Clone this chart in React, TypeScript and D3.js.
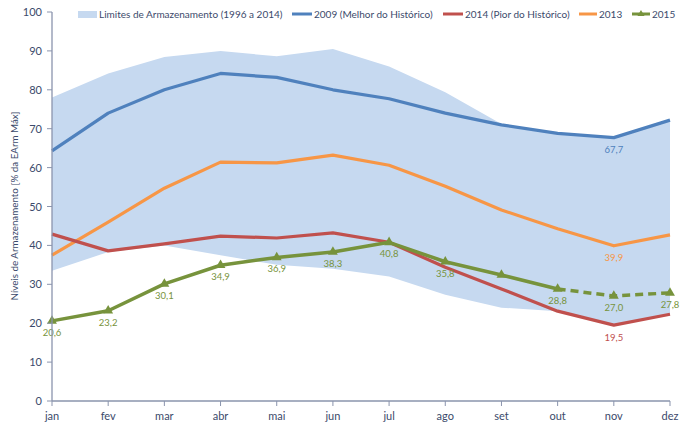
import React from "react";
import * as d3 from "d3";

const months = ["jan", "fev", "mar", "abr", "mai", "jun", "jul", "ago", "set", "out", "nov", "dez"];
const bandUpper = [78, 84.2, 88.4, 90, 88.6, 90.5, 86, 79.4, 71.2, 68.9, 67.7, 72.2];
const bandLower = [33.5, 38.3, 40, 37.5, 35, 34, 32, 27.3, 24, 23.1, 19.5, 22.3];
const s2009 = [64.3, 74, 80, 84.2, 83.2, 80, 77.7, 74, 71, 68.8, 67.7, 72.2];
const s2014 = [42.9, 38.6, 40.4, 42.4, 41.9, 43.2, 40.8, 34.4, 28.8, 23.1, 19.5, 22.3];
const s2013 = [37.5, 46, 54.7, 61.4, 61.2, 63.2, 60.6, 55.2, 49.1, 44.3, 39.9, 42.7];
const s2015 = [20.6, 23.2, 30.1, 34.9, 36.9, 38.3, 40.8, 35.8, 32.4, 28.8, 27.0, 27.8];
const labels2015 = [true, true, true, true, true, true, true, true, false, true, true, true];
const yTicks = [0, 10, 20, 30, 40, 50, 60, 70, 80, 90, 100];

const C_BLUE = "#4f81bd";
const C_RED = "#c0504d";
const C_ORANGE = "#f79646";
const C_GREEN = "#77933c";
const C_BAND = "#c6d9f0";
const C_AXIS = "#8a94ad";
const C_TEXT = "#3b4a6b";
const FONT = "Lato, 'Open Sans', sans-serif";

const fmt = (v: number) => v.toFixed(1).replace(".", ",");

export default function App() {
  const x = d3.scalePoint<string>().domain(months).range([52, 670]);
  const y = d3.scaleLinear().domain([0, 100]).range([401, 12]);
  const px = (i: number) => x(months[i]) as number;

  const area = d3
    .area<number>()
    .x((_, i) => px(i))
    .y0((_, i) => y(bandLower[i]))
    .y1((_, i) => y(bandUpper[i]));
  const line = d3
    .line<number>()
    .x((_, i) => px(i))
    .y((d) => y(d));
  const lineOffset = (start: number) =>
    d3
      .line<number>()
      .x((_, i) => px(i + start))
      .y((d) => y(d));

  const tri = d3.symbol().type(d3.symbolTriangle).size(42)() as string;
  const triSmall = d3.symbol().type(d3.symbolTriangle).size(22)() as string;

  const legendY = 14;

  return (
    <svg
      width={688}
      height={428}
      style={{ position: "absolute", left: 0, top: 0, background: "#fff" }}
      fontFamily={FONT}
    >
      {/* band */}
      <path d={area(bandUpper) as string} fill={C_BAND} />

      {/* lines */}
      <path d={line(s2009) as string} fill="none" stroke={C_BLUE} strokeWidth={3.2} strokeLinejoin="round" />
      <path d={line(s2013) as string} fill="none" stroke={C_ORANGE} strokeWidth={3.2} strokeLinejoin="round" />
      <path d={line(s2014) as string} fill="none" stroke={C_RED} strokeWidth={3.2} strokeLinejoin="round" />
      <path d={line(s2015.slice(0, 10)) as string} fill="none" stroke={C_GREEN} strokeWidth={3.5} strokeLinejoin="round" />
      <path
        d={lineOffset(9)(s2015.slice(9)) as string}
        fill="none"
        stroke={C_GREEN}
        strokeWidth={3.5}
        strokeDasharray="8,5"
      />
      {s2015.map((v, i) => (
        <path key={i} d={tri} transform={`translate(${px(i)},${y(v)})`} fill={C_GREEN} />
      ))}

      {/* data labels */}
      <g fontSize={9.5} textAnchor="middle">
        {s2015.map((v, i) =>
          labels2015[i] ? (
            <text key={i} x={px(i)} y={y(v) + 15} fill={C_GREEN}>
              {fmt(v)}
            </text>
          ) : null
        )}
        <text x={px(10)} y={y(s2009[10]) + 15} fill={C_BLUE}>
          {fmt(s2009[10])}
        </text>
        <text x={px(10)} y={y(s2013[10]) + 15} fill={C_ORANGE}>
          {fmt(s2013[10])}
        </text>
        <text x={px(10)} y={y(s2014[10]) + 16} fill={C_RED}>
          {fmt(s2014[10])}
        </text>
      </g>

      {/* y axis */}
      <line x1={52} x2={52} y1={y(100)} y2={y(0)} stroke={C_AXIS} strokeWidth={1.3} />
      {yTicks.map((t) => (
        <g key={t}>
          <line x1={47} x2={52} y1={y(t)} y2={y(t)} stroke={C_AXIS} strokeWidth={1} />
          <text x={42} y={y(t) + 4} textAnchor="end" fontSize={11} fill={C_TEXT}>
            {t}
          </text>
        </g>
      ))}
      <text
        transform={`translate(18,${206}) rotate(-90)`}
        textAnchor="middle"
        fontSize={9.8}
        fill={C_TEXT}
      >
        Níveis de Armazenamento [% da EArm Máx]
      </text>

      {/* x axis */}
      <line x1={52} x2={670} y1={y(0)} y2={y(0)} stroke={C_AXIS} strokeWidth={1.3} />
      {months.map((m, i) => (
        <g key={m}>
          <line x1={px(i)} x2={px(i)} y1={y(0)} y2={y(0) + 5} stroke={C_AXIS} strokeWidth={1} />
          <text x={px(i)} y={420} textAnchor="middle" fontSize={11} fill={C_TEXT}>
            {m}
          </text>
        </g>
      ))}

      {/* legend */}
      <g fontSize={10} fill={C_TEXT}>
        <rect x={78} y={legendY - 3} width={19} height={7} fill={C_BAND} />
        <text x={99} y={legendY + 4}>Limites de Armazenamento (1996 a 2014)</text>

        <line x1={292} x2={312} y1={legendY} y2={legendY} stroke={C_BLUE} strokeWidth={3} />
        <text x={314} y={legendY + 4}>2009 (Melhor do Histórico)</text>

        <line x1={443} x2={463} y1={legendY} y2={legendY} stroke={C_RED} strokeWidth={3} />
        <text x={465} y={legendY + 4}>2014 (Pior do Histórico)</text>

        <line x1={579} x2={597} y1={legendY} y2={legendY} stroke={C_ORANGE} strokeWidth={3} />
        <text x={599} y={legendY + 4}>2013</text>

        <line x1={632} x2={650} y1={legendY} y2={legendY} stroke={C_GREEN} strokeWidth={3} />
        <path d={triSmall} transform={`translate(641,${legendY})`} fill={C_GREEN} />
        <text x={652} y={legendY + 4}>2015</text>
      </g>
    </svg>
  );
}
